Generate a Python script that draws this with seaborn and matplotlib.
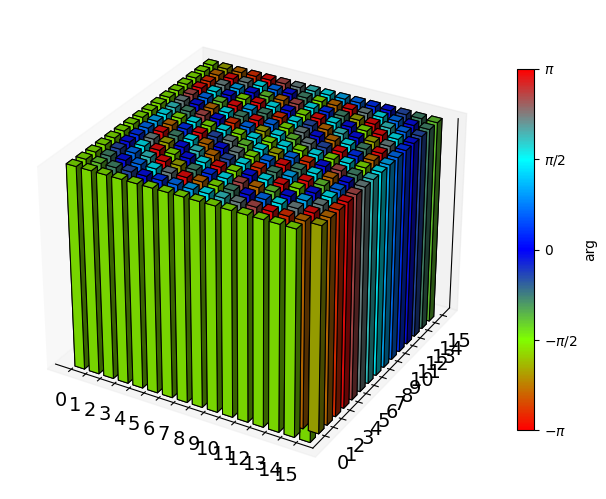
import numpy as np
import matplotlib
matplotlib.use("Agg")
import matplotlib.pyplot as plt
import matplotlib as mpl
import seaborn as sns

sns.reset_defaults()

phase_eighths = [
    [-4, -4, -4, -4, -4, -4, -4, -4, -4, -4, -4, -4, -4, -4, -4, -4],
    [-4, -3, -2, -1, 0, 1, 2, 3, 4, 5, 6, 7, -8, -7, -6, -5],
    [-4, -2, 0, 2, 4, 6, -8, -6, -4, -2, 0, 2, 4, 6, -8, -6],
    [-4, -1, 2, 5, -8, -5, -2, 1, 4, 7, -6, -3, 0, 3, 6, -7],
    [-4, 0, 4, -8, -4, 0, 4, -8, -4, 0, 4, -8, -4, 0, 4, -8],
    [-4, 1, 6, -5, 0, 5, -6, -1, 4, -7, -2, 3, -8, -3, 2, 7],
    [-4, 2, -8, -2, 4, -6, 0, 6, -4, 2, -8, -2, 4, -6, 0, 6],
    [-4, 3, -6, 1, -8, -1, 6, -3, 4, -5, 2, -7, 0, 7, -2, 5],
    [-4, 4, -4, 4, -4, 4, -4, 4, -4, 4, -4, 4, -4, 4, -4, 4],
    [-4, 5, -2, 7, 0, -7, 2, -5, 4, -3, 6, -1, -8, 1, -6, 3],
    [-4, 6, 0, -6, 4, -2, -8, 2, -4, 6, 0, -6, 4, -2, -8, 2],
    [-4, 7, 2, -3, -8, 3, -2, -7, 4, -1, -6, 5, 0, -5, 6, 1],
    [-4, -8, 4, 0, -4, -8, 4, 0, -4, -8, 4, 0, -4, -8, 4, 0],
    [-4, -7, 6, 3, 0, -3, -6, 7, 4, 1, -2, -5, -8, 5, 2, -1],
    [-4, -6, -8, 6, 4, 2, 0, -2, -4, -6, -8, 6, 4, 2, 0, -2],
    [-4, -5, -6, -7, -8, 7, 6, 5, 4, 3, 2, 1, 0, -1, -2, -3],
]
phase_offset = -0.08  # the greens sit slightly below -pi/2
bar_height = 0.0625
tick_labels = [str(i) for i in range(16)]
cbar_ticks = [-np.pi, -np.pi / 2, 0, np.pi / 2, np.pi]
cbar_labels = [r"$-\pi$", r"$-\pi/2$", r"$0$", r"$\pi/2$", r"$\pi$"]

# same colour wheel as the colorbar
phase_cmap = sns.blend_palette([(1, 0, 0), (0.5, 1, 0), (0, 0, 1), (0, 1, 1), (1, 0, 0)], as_cmap=True)
norm = mpl.colors.Normalize(-np.pi, np.pi)

angles = np.angle(np.exp(1j * (np.array(phase_eighths) * np.pi / 8 + phase_offset)))
xpos, ypos = np.meshgrid(range(16), range(16), indexing="ij")
xpos = xpos.flatten().astype(float)
ypos = ypos.flatten() - 1.0
colors = phase_cmap(norm(angles.flatten()))

fig = plt.figure(figsize=(6.06, 4.99), dpi=100)
ax = fig.add_axes([21 / 606, 22 / 499, 458 / 606, 458 / 499], projection="3d")
ax.computed_zorder = False

# the corner bar (15, 0) is painted under all the others in the reference
corner = (xpos == 15) & (ypos == -1)
for mask, order in [(corner, 1), (~corner, 2)]:
    n = mask.sum()
    ax.bar3d(xpos[mask], ypos[mask], np.zeros(n), 0.66, 0.62, np.full(n, bar_height),
             color=colors[mask], edgecolors="k", linewidth=0.75, zorder=order)

xlim = (-1.1, 16.05)
ylim = (-1.4, 16.0)
zlim = (0, bar_height / 1.04)  # bars poke slightly above the z axis line
ax.set_xlim(*xlim, view_margin=0)
ax.set_ylim(*ylim, view_margin=0)
ax.set_zlim(*zlim, view_margin=0)
ax.set_xticks(np.arange(16))
ax.set_xticklabels(tick_labels, fontsize=14)
ax.set_yticks(np.arange(16))
ax.set_yticklabels(tick_labels, fontsize=14)
ax.set_zticks([])
ax.grid(False)


# panes stick out a little past the axis lines, like the old mplot3d layout
def wider(lim):
    m = (lim[1] - lim[0]) / 48
    return lim[0] - m, lim[1] + m


def widen_pane(axis):
    draw_pane = axis.draw_pane

    def draw_wide(renderer):
        ax.set_xlim(*wider(xlim), view_margin=0)
        ax.set_ylim(*wider(ylim), view_margin=0)
        ax.set_zlim(*wider(zlim), view_margin=0)
        draw_pane(renderer)
        ax.set_xlim(*xlim, view_margin=0)
        ax.set_ylim(*ylim, view_margin=0)
        ax.set_zlim(*zlim, view_margin=0)

    axis.draw_pane = draw_wide


for axis in [ax.xaxis, ax.yaxis, ax.zaxis]:
    widen_pane(axis)

cax = fig.add_axes([517 / 606, 1 - 430 / 499, 17 / 606, 361 / 499])
cb = fig.colorbar(mpl.cm.ScalarMappable(norm=norm, cmap=phase_cmap), cax=cax)
cb.set_ticks(cbar_ticks)
cb.set_ticklabels(cbar_labels)
cb.set_label("arg")

fig.savefig("out.png", dpi=100)
